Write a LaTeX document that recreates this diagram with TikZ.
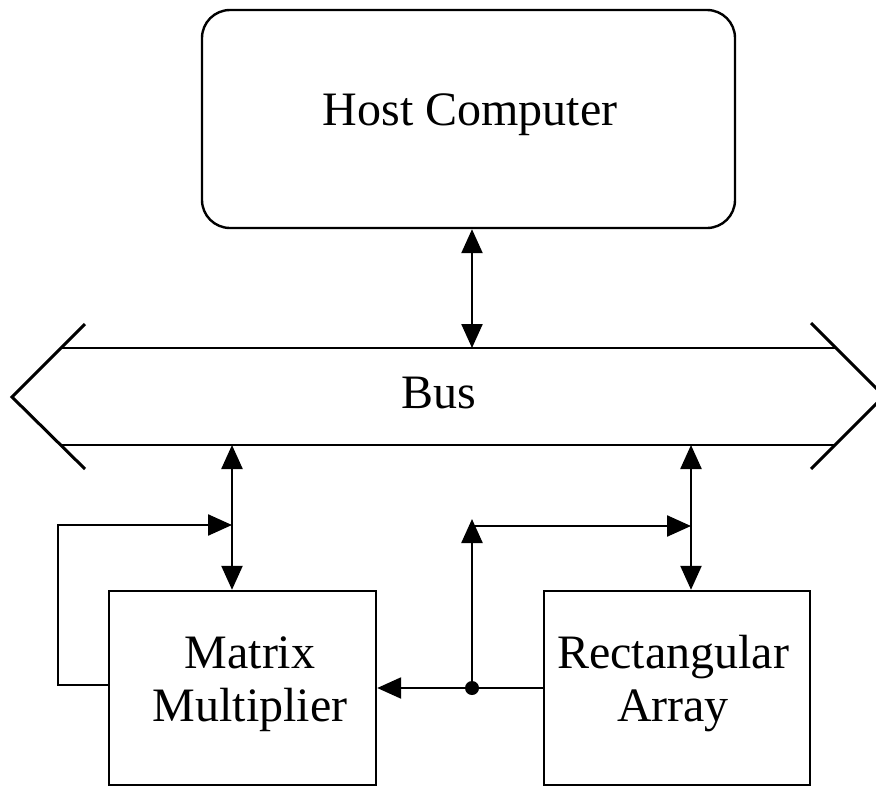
\documentclass[tikz,border=0pt]{standalone}
\usepackage{fontspec}
\setmainfont{Liberation Serif}
\usetikzlibrary{arrows.meta}
\begin{document}
\begin{tikzpicture}[x=1pt,y=-1pt,
  line width=2.4pt,
  txt/.style={font=\fontsize{48}{53}\selectfont, align=center, inner sep=0pt},
  arr/.style={-{Triangle[length=24pt,width=21pt]}},
  darr/.style={{Triangle[length=24pt,width=21pt]}-{Triangle[length=24pt,width=21pt]}}]
\useasboundingbox (0,0) rectangle (876,787);
% host
\node[draw, rounded corners=28pt, minimum width=533pt, minimum height=218pt, txt] (host) at (468.5,119) {};
\node[txt] (hostlabel) at (470,115) {Host Computer};
% bus
\draw[line width=3pt] (85,324) -- (12,397) -- (85,469);
\draw[line width=3pt] (811,323) -- (884,396) -- (811,469);
\draw (61,348) coordinate (bl1) -- (836,348) coordinate (br1);
\draw (60,445) coordinate (bl2) -- (836,445) coordinate (br2);
\node[txt] (bus) at (439,393) {Bus};
\coordinate (bushost) at (472,348);
\coordinate (busmm) at (232,445);
\coordinate (busra) at (691,445);
% blocks
\node[draw, minimum width=267pt, minimum height=194pt, inner sep=0pt] (mm) at (242.5,688) {};
\node[txt] (mmlabel) at (250,684) {Matrix\\Multiplier};
\node[draw, minimum width=266pt, minimum height=194pt, inner sep=0pt] (ra) at (677,688) {};
\node[txt] (ralabel) at (673,684) {Rectangular\\Array};
% connectors
\draw[darr] (host.south -| bushost) -- (bushost);
\draw[darr] (busmm) -- (busmm |- mm.north);
\draw[darr] (busra) -- (busra |- ra.north);
\coordinate (fbl) at (58,685);
\coordinate (fbt) at (58,525);
\coordinate (mmjoin) at (232,525);
\draw[arr] (mm.west |- fbl) -- (fbl) -- (fbt) -- (mmjoin);
\coordinate (dot) at (472,688);
\draw[arr] (ra.west |- dot) -- (dot) -- (dot -| mm.east);
\fill (dot) circle (7pt);
\coordinate (uptip) at (472,519);
\coordinate (hstart) at (472,526);
\coordinate (rajoin) at (691,526);
\draw[arr] (dot) -- (uptip);
\draw[arr] (hstart) -- (rajoin);
\end{tikzpicture}
\end{document}
